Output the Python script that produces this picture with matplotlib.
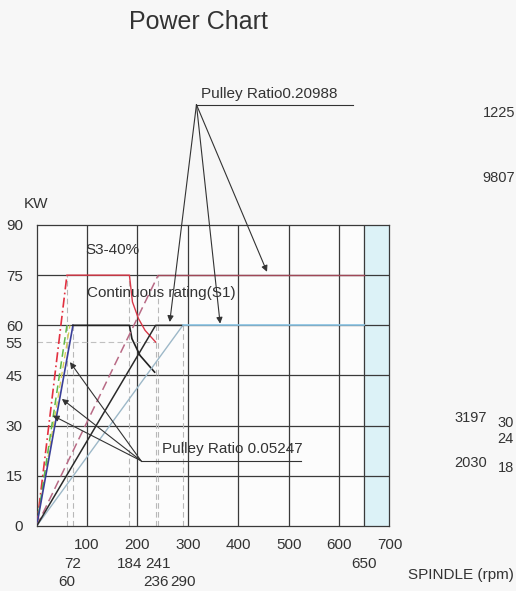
import numpy as np
import matplotlib.pyplot as plt
from matplotlib import transforms

plt.rcParams['font.family'] = ['Liberation Sans', 'DejaVu Sans']

# spindle speed (rpm) / power (kW)
s3_low_rise_x = [0, 60]
s3_low_rise_y = [0, 75]
s3_low_x = [60, 184, 190, 202, 215, 236]
s3_low_y = [75, 75, 67, 62, 58.5, 55]
green_x = [0, 60]
green_y = [0, 60]
yellow_x = [0, 66]
yellow_y = [0, 60]
s1_low_rise_x = [0, 72]
s1_low_rise_y = [0, 60]
s1_low_x = [72, 184, 189, 205, 234]
s1_low_y = [60, 60, 56, 51, 46]
s3_high_rise_x = [0, 241]
s3_high_rise_y = [0, 75]
s3_high_flat_x = [241, 650]
s3_high_flat_y = [75, 75]
s1_high_x = [0, 236, 290]
s1_high_y = [0, 60, 60]
s1_high2_x = [0, 290]
s1_high2_y = [0, 60]
s1_high_flat_x = [290, 650]
s1_high_flat_y = [60, 60]

guide_x = [60, 72, 184, 236, 241, 290]
guide_top = [75, 60, 75, 60, 75, 60]

yticks = [0, 15, 30, 45, 55, 60, 75, 90]
xticks_row1 = [100, 200, 300, 400, 500, 600, 700]
xticks_row2 = [72, 184, 241, 650]
xticks_row3 = [60, 236, 290]
grid_x = [100, 200, 300, 400, 500, 600, 650]
grid_y = [15, 30, 45, 60, 75]

# pulley ratio annotations: apex and arrow targets
hi_label = 'Pulley Ratio0.20988'
hi_apex = (317, 126)
hi_end = 627
hi_targets = [(264, 61), (364, 60.5), (457, 76)]
lo_label = 'Pulley Ratio 0.05247'
lo_apex = (207, 19.5)
lo_end = 524
lo_targets = [(66, 49), (50, 38), (32, 33)]

# fragments of the neighbouring chart visible at the right edge
edge_texts = [('1225', 515, 113), ('9807', 515, 178), ('3197', 487, 418),
              ('30', 514, 423), ('24', 514, 439), ('2030', 487, 463), ('18', 514, 468)]

fig = plt.figure(figsize=(5.16, 5.91), dpi=100, facecolor='#f7f7f7')
ax = fig.add_axes([0.0711, 0.1100, 0.6837, 0.5093], facecolor='#fcfcfc')
ax.set_xlim(0, 700)
ax.set_ylim(0, 90)

gc = '#3a3a3a'
ax.axvspan(650, 700, color='#dcf2f7', zorder=0)
for g in grid_x:
    ax.axvline(g, color=gc, lw=0.9, zorder=1)
for g in grid_y:
    ax.axhline(g, color=gc, lw=0.9, zorder=1)
for s in ax.spines.values():
    s.set_color(gc)
    s.set_linewidth(0.9)

# dashed guide lines
for gx, gt in zip(guide_x, guide_top):
    ax.plot([gx, gx], [0, gt], color='#b8b8b8', lw=0.8, ls=(0, (5, 3)), zorder=2)
ax.plot([0, 236], [55, 55], color='#c0c0c0', lw=0.8, ls=(0, (5, 3)), zorder=2)

# curves
ax.plot(s3_low_rise_x, s3_low_rise_y, color='#e23040', lw=1.2, ls=(0, (6, 2, 1, 2)), zorder=3)
ax.plot(s3_low_x, s3_low_y, color='#d83848', lw=1.0, zorder=3)
ax.plot(yellow_x, yellow_y, color='#d8cc50', lw=0.9, ls=(0, (5, 3)), zorder=3)
ax.plot(green_x, green_y, color='#5db84a', lw=1.1, ls=(0, (5, 3)), zorder=3)
ax.plot(s1_low_rise_x, s1_low_rise_y, color='#3a3f98', lw=1.2, zorder=3)
ax.plot(s1_low_x, s1_low_y, color='#222222', lw=1.2, zorder=3)
ax.plot(s3_high_rise_x, s3_high_rise_y, color='#b86a85', lw=1.1, ls=(0, (6, 3)), zorder=3)
ax.plot(s3_high_flat_x, s3_high_flat_y, color='#a04858', lw=1.0, zorder=3)
ax.plot(s1_high2_x, s1_high2_y, color='#9db8c8', lw=1.0, zorder=3)
ax.plot(s1_high_x, s1_high_y, color='#2a2a2a', lw=1.1, zorder=3)
ax.plot(s1_high_flat_x, s1_high_flat_y, color='#8cc6e6', lw=1.2, zorder=3)

# text labels inside the plot
tc = '#333333'
ax.text(96, 82.5, 'S3-40%', fontsize=11, color=tc, va='center')
ax.text(100, 69.6, 'Continuous rating(S1)', fontsize=11, color=tc, va='center')

arrow = dict(arrowstyle='-|>', color='#333333', lw=0.8, mutation_scale=9,
             shrinkA=0, shrinkB=0)
ax.plot([hi_apex[0], hi_end], [hi_apex[1], hi_apex[1]], color='#333333', lw=0.8, clip_on=False)
ax.text(hi_apex[0] + 10, hi_apex[1] + 1.2, hi_label, fontsize=11, color=tc, va='bottom')
for t in hi_targets:
    ax.annotate('', xy=t, xytext=hi_apex, arrowprops=arrow, annotation_clip=False)
ax.plot([lo_apex[0], lo_end], [lo_apex[1], lo_apex[1]], color='#333333', lw=0.8)
ax.text(lo_apex[0] + 42, lo_apex[1] + 1.5, lo_label, fontsize=11, color=tc, va='bottom')
for t in lo_targets:
    ax.annotate('', xy=t, xytext=lo_apex, arrowprops=arrow)

# axis labels
ax.set_xticks([])
ax.set_yticks(yticks)
ax.set_yticklabels([str(v) for v in yticks], fontsize=11, color=tc)
ax.tick_params(axis='y', length=0, pad=10)
trans = transforms.blended_transform_factory(ax.transData, ax.transAxes)
for row, yy in ((xticks_row1, -0.063), (xticks_row2, -0.127), (xticks_row3, -0.187)):
    for v in row:
        ax.text(v, yy, str(v), transform=trans, fontsize=11, color=tc,
                ha='center', va='center', clip_on=False)

W, H = 516, 591
def ft(x, y, s, **kw):
    fig.text(x / W, 1 - y / H, s, color=tc, va='center', **kw)

ft(198, 22, 'Power Chart', fontsize=18, ha='center')
ft(36, 204, 'KW', fontsize=11, ha='center')
ft(514, 575, 'SPINDLE (rpm)', fontsize=11, ha='right')
for s, x, y in edge_texts:
    ft(x, y, s, fontsize=10.5, ha='right')

fig.savefig('out.png', dpi=100, facecolor=fig.get_facecolor())
